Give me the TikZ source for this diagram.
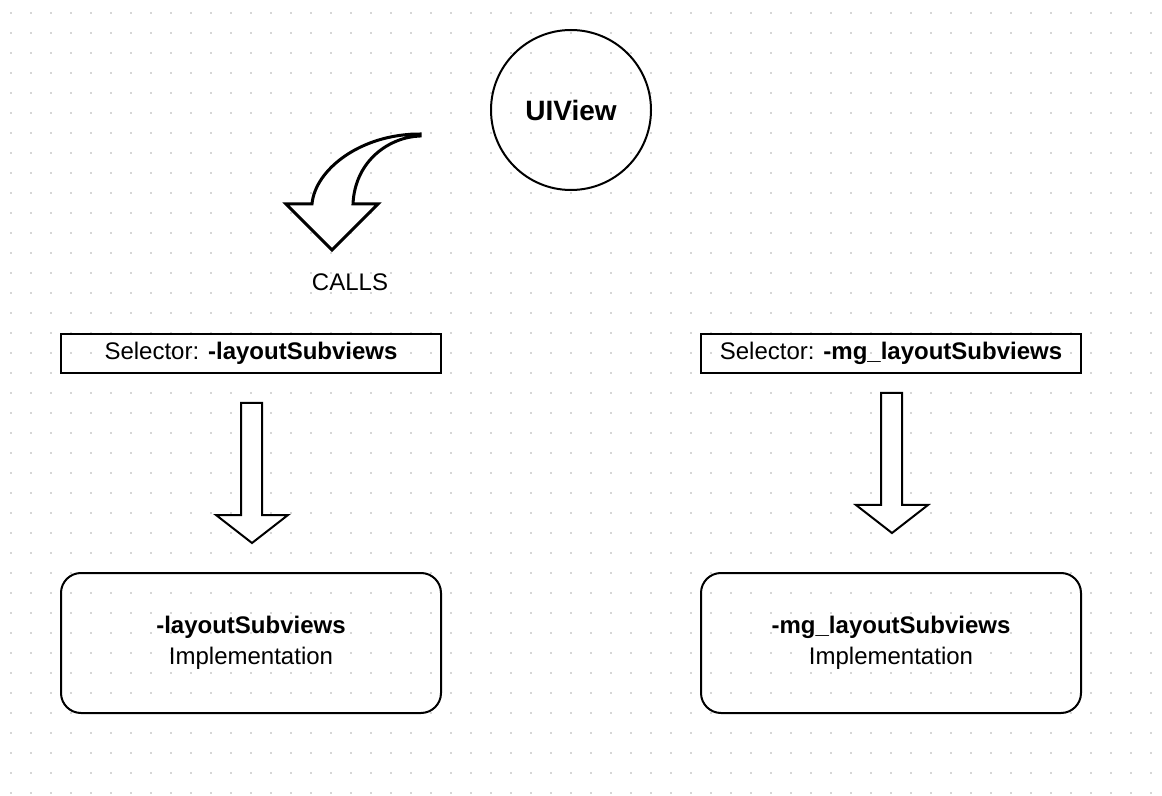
\documentclass[tikz,border=0pt]{standalone}
\usepackage{fontspec}
\setmainfont{Liberation Sans}
\begin{document}
\begin{tikzpicture}[x=0.5pt,y=-0.5pt,line width=1pt,font=\fontsize{12pt}{15.5pt}\selectfont,
	selbox/.style={draw,minimum width=190pt,minimum height=19.5pt,inner sep=0pt},
	implbox/.style={draw,rounded corners=10pt,minimum width=190pt,minimum height=70pt,align=center}]

	\fill[white] (0,0) rectangle (1162,796);
	\useasboundingbox (0,0) rectangle (1162,796);
	\foreach \i in {11,31,...,1151}
		\foreach \j in {13,33,...,793}
			\fill[black!16] (\i-0.8,\j-0.8) rectangle (\i+0.8,\j+0.8);

	\draw (571,110) node[draw,circle,minimum size=80pt,inner sep=0pt,font=\fontsize{14pt}{17pt}\selectfont\bfseries] (uiview) {UIView};

	\filldraw[fill=white, line width=1.5pt] (420,134) .. controls (360,134) and (315,170) .. (312,204) -- (286,204) -- (332,250) -- (378,204) -- (353,204) .. controls (355,160) and (390,137) .. (420,136) -- cycle;
	\draw (350,282) node (calls) {CALLS};

	\draw (251,353.5) node[selbox] (selleft) {Selector: \textbf{-layoutSubviews}};
	\draw (891,353.5) node[selbox] (selright) {Selector: \textbf{-mg\_layoutSubviews}};

	\filldraw[fill=white] (241,403) -- (262,403) -- (262,515) -- (288,515) -- (252,543) -- (216,515) -- (241,515) -- cycle;
	\filldraw[fill=white] (881,393) -- (902,393) -- (902,505) -- (928,505) -- (892,533) -- (856,505) -- (881,505) -- cycle;

	\draw (251,643) node[implbox] (implleft) {\textbf{-layoutSubviews}\\Implementation};
	\draw (891,643) node[implbox] (implright) {\textbf{-mg\_layoutSubviews}\\Implementation};

\end{tikzpicture}
\end{document}
